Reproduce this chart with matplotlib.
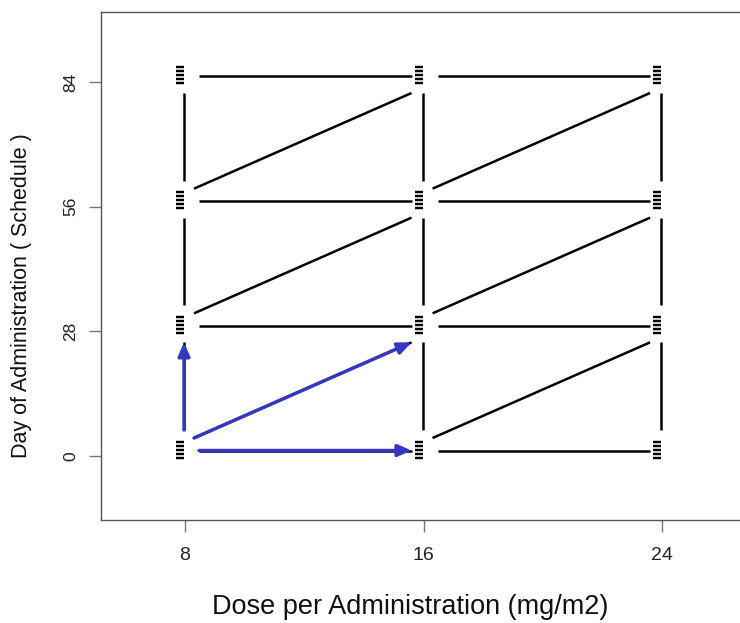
import matplotlib
matplotlib.use("Agg")
import matplotlib.pyplot as plt
from matplotlib.path import Path
from matplotlib.transforms import ScaledTranslation

# Design grid: dose levels (mg/m2) and administration days
doses = [8, 16, 24]
days = [0, 28, 56, 84]

# Highlighted transitions out of the starting regimen
start_node = (8, 0)
highlight_targets = [(16, 0), (8, 28), (16, 28)]

x_label = "Dose per Administration (mg/m2)"
y_label = "Day of Administration ( Schedule )"

plt.rcParams['font.family'] = ['Liberation Sans', 'DejaVu Sans']

W, H = 740, 623
fig = plt.figure(figsize=(W / 100, H / 100), dpi=100)
ax = fig.add_axes([101 / W, 1 - 520 / H, (770 - 101) / W, (520 - 12) / H])
ax.set_xlim(5.182, 27.62)
ax.set_ylim(-14.37, 99.72)

# frame and ticks in the style of base R graphics
for side in ("left", "bottom", "top"):
    ax.spines[side].set_color("#555555")
    ax.spines[side].set_linewidth(1.0)
ax.spines["right"].set_visible(False)
ax.set_xticks(doses)
ax.set_yticks(days)
ax.set_xticklabels([str(d) for d in doses], fontsize=14, color="#222222")
ax.set_yticklabels([str(t) for t in days], fontsize=12.5, color="#222222",
                   rotation=90, va="center")
ax.tick_params(axis="both", direction="out", length=8.6, width=1.0,
               color="#777777")
ax.tick_params(axis="x", pad=11)
ax.tick_params(axis="y", pad=8)

fig.text(410 / W, 1 - 607 / H, x_label, fontsize=19.5, ha="center",
         va="center", color="#111111")
fig.text(22 / W, 1 - 296 / H, y_label, fontsize=15.5, ha="center",
         va="center", rotation=90, color="#111111")

# transitions between neighbouring regimens
edges = []
for i, d in enumerate(doses):
    for j, t in enumerate(days):
        if i + 1 < len(doses):
            edges.append(("h", (d, t), (doses[i + 1], t)))
        if j + 1 < len(days):
            edges.append(("v", (d, t), (d, days[j + 1])))
        if i + 1 < len(doses) and j + 1 < len(days):
            edges.append(("d", (d, t), (doses[i + 1], days[j + 1])))

# pixel gaps between a segment and the nodes it joins (x right, y down)
gaps = {
    "h": ((14, -5.5), (-12, -5.5)),
    "v": ((-1, -26), (-1, 11)),
    "d": ((9, -18), (-12, 11)),
}


def nudge(pt, off):
    disp = ax.transData.transform(pt)
    disp = (disp[0] + off[0], disp[1] - off[1])
    return ax.transData.inverted().transform(disp)


def kind_of(a, b):
    if a[1] == b[1]:
        return "h"
    if a[0] == b[0]:
        return "v"
    return "d"


for kind, a, b in edges:
    p0 = nudge(a, gaps[kind][0])
    p1 = nudge(b, gaps[kind][1])
    ax.plot([p0[0], p1[0]], [p0[1], p1[1]], color="black", lw=1.8,
            solid_capstyle="butt", zorder=2)

blue = "#3636C6"
for target in highlight_targets:
    kind = kind_of(start_node, target)
    p0 = nudge(start_node, gaps[kind][0])
    p1 = nudge(target, gaps[kind][1])
    ax.annotate("", xy=p1, xytext=p0,
                arrowprops=dict(arrowstyle="-|>,head_length=0.8,head_width=0.35",
                                color=blue, lw=2.5, mutation_scale=10,
                                shrinkA=0, shrinkB=0),
                zorder=4)

# node symbol: five stacked dashes
verts, codes = [], []
for yy in (-0.9, -0.45, 0.0, 0.45, 0.9):
    verts += [(-0.4, yy), (0.4, yy)]
    codes += [Path.MOVETO, Path.LINETO]
stack = Path(verts, codes)

node_x = [d for d in doses for _ in days]
node_y = [t for _ in doses for t in days]
shift = ax.transData + ScaledTranslation(-5 / 100, 6.5 / 100, fig.dpi_scale_trans)
ax.plot(node_x, node_y, linestyle="none", marker=stack, ms=12.2, mew=1.75,
        mec="black", mfc="none", transform=shift, zorder=3, clip_on=False)

fig.savefig("out.png", dpi=100)
